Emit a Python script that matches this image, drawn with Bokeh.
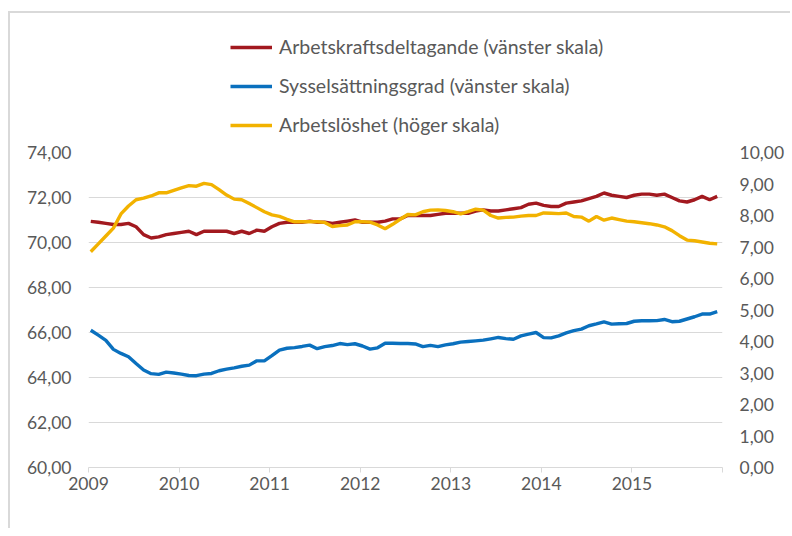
from bokeh.plotting import figure
from bokeh.layouts import column
from bokeh.models import (Range1d, LinearAxis, FixedTicker, CustomJSTickFormatter,
                          Legend, LegendItem, ColumnDataSource)
from bokeh.embed import file_html
from bokeh.resources import INLINE

# Monthly data, Jan 2009 - Dec 2015
start_year = 2009
arbetskraft = [
    70.94, 70.9, 70.85, 70.8, 70.8, 70.85, 70.7, 70.35, 70.2, 70.25, 70.35, 70.4,
    70.45, 70.5, 70.35, 70.5, 70.5, 70.5, 70.5, 70.4, 70.5, 70.4, 70.55, 70.5,
    70.7, 70.85, 70.9, 70.9, 70.9, 70.95, 70.9, 70.9, 70.85, 70.9, 70.95, 71.0,
    70.9, 70.9, 70.9, 70.95, 71.05, 71.05, 71.2, 71.2, 71.2, 71.2, 71.25, 71.3,
    71.3, 71.3, 71.3, 71.4, 71.45, 71.4, 71.4, 71.45, 71.5, 71.55, 71.7, 71.75,
    71.65, 71.6, 71.6, 71.75, 71.8, 71.85, 71.95, 72.05, 72.2, 72.1, 72.05, 72.0,
    72.1, 72.15, 72.15, 72.1, 72.15, 72.0, 71.85, 71.8, 71.9, 72.05, 71.9, 72.05,
]
sysselsattning = [
    66.1, 65.88, 65.65, 65.25, 65.07, 64.92, 64.62, 64.33, 64.17, 64.14, 64.24, 64.2,
    64.15, 64.09, 64.08, 64.15, 64.18, 64.3, 64.37, 64.43, 64.5, 64.55, 64.74, 64.74,
    64.97, 65.22, 65.3, 65.33, 65.38, 65.44, 65.28, 65.37, 65.42, 65.51, 65.46, 65.5,
    65.4, 65.26, 65.32, 65.52, 65.52, 65.51, 65.51, 65.49, 65.37, 65.43, 65.37, 65.45,
    65.5, 65.57, 65.6, 65.63, 65.66, 65.72, 65.78, 65.73, 65.7, 65.85, 65.93, 66.0,
    65.77, 65.76, 65.85, 65.98, 66.08, 66.15, 66.3, 66.38, 66.47, 66.37, 66.39, 66.4,
    66.5, 66.52, 66.52, 66.53, 66.58, 66.48, 66.5, 66.6, 66.7, 66.82, 66.82, 66.93,
]
arbetsloshet = [
    6.85, 7.1, 7.35, 7.6, 8.05, 8.3, 8.5, 8.55, 8.62, 8.72, 8.72, 8.8,
    8.88, 8.95, 8.93, 9.02, 8.98, 8.82, 8.65, 8.52, 8.5, 8.38, 8.25, 8.12,
    8.02, 7.97, 7.88, 7.8, 7.8, 7.8, 7.8, 7.78, 7.65, 7.68, 7.7, 7.8,
    7.8, 7.79, 7.7, 7.58, 7.72, 7.88, 8.03, 8.02, 8.12, 8.17, 8.18, 8.16,
    8.12, 8.05, 8.12, 8.2, 8.17, 8.0, 7.92, 7.94, 7.95, 7.98, 8.0, 8.0,
    8.08, 8.07, 8.06, 8.08, 7.97, 7.95, 7.82, 7.97, 7.85, 7.92, 7.87, 7.82,
    7.8, 7.77, 7.74, 7.7, 7.64, 7.52, 7.36, 7.22, 7.2, 7.16, 7.12, 7.1,
]
year_ticks = [2009, 2010, 2011, 2012, 2013, 2014, 2015, 2016]
left_ticks = [60, 62, 64, 66, 68, 70, 72, 74]
right_ticks = [0, 1, 2, 3, 4, 5, 6, 7, 8, 9, 10]
labels = ["Arbetskraftsdeltagande (vänster skala)",
          "Sysselsättningsgrad (vänster skala)",
          "Arbetslöshet (höger skala)"]
colors = ["#A2191F", "#0A70BE", "#F2B200"]

x = [start_year + (i + 0.3) / 12 for i in range(len(arbetskraft))]
src = ColumnDataSource(dict(x=x, a=arbetskraft, s=sysselsattning, u=arbetsloshet))

FONT = "Lato"
TXT = "#595959"
GRID = "#d9d9d9"
LW = 3.4

# ---- main chart ----
p = figure(width=780, height=386, output_backend="svg", toolbar_location=None,
           x_range=Range1d(2009, 2016), y_range=Range1d(60, 74),
           min_border_left=78, min_border_right=68, min_border_top=10,
           min_border_bottom=61)
p.outline_line_color = None
p.extra_y_ranges = {"right": Range1d(0, 10)}

p.line("x", "a", source=src, line_color=colors[0], line_width=LW)
p.line("x", "s", source=src, line_color=colors[1], line_width=LW)
p.line("x", "u", source=src, line_color=colors[2], line_width=LW, y_range_name="right")

num_fmt = CustomJSTickFormatter(code="return tick.toFixed(2).replace('.', ',');")

ya = p.yaxis[0]
ya.ticker = FixedTicker(ticks=left_ticks)
ya.formatter = num_fmt

ra = LinearAxis(y_range_name="right", ticker=FixedTicker(ticks=right_ticks),
                formatter=num_fmt)
p.add_layout(ra, "right")

for ax in (ya, ra):
    ax.axis_line_color = None
    ax.major_tick_line_color = None
    ax.minor_tick_line_color = None
    ax.major_tick_out = 0
    ax.major_tick_in = 0
    ax.major_label_standoff = 17
    ax.major_label_text_font = FONT
    ax.major_label_text_font_size = "17.5px"
    ax.major_label_text_color = TXT

xa = p.xaxis[0]
xa.ticker = FixedTicker(ticks=year_ticks)
xa.formatter = CustomJSTickFormatter(code="return tick < 2016 ? tick.toFixed(0) : '';")
xa.axis_line_color = GRID
xa.axis_line_width = 1
xa.major_tick_line_color = GRID
xa.major_tick_out = 5
xa.major_tick_in = 0
xa.minor_tick_line_color = None
xa.major_label_standoff = 4
xa.major_label_text_font = FONT
xa.major_label_text_font_size = "17.5px"
xa.major_label_text_color = TXT

p.xgrid.grid_line_color = None
p.ygrid.ticker = FixedTicker(ticks=left_ticks)
p.ygrid.grid_line_color = GRID
p.ygrid.grid_line_width = 1

# ---- legend strip above the chart ----
lg = figure(width=780, height=129, output_backend="svg", toolbar_location=None,
            x_range=Range1d(2009, 2016), y_range=Range1d(0, 1),
            x_axis_location=None, y_axis_location=None,
            min_border_left=0, min_border_right=0, min_border_top=0,
            min_border_bottom=0)
lg.outline_line_color = None
lg.grid.grid_line_color = None
# same series, outside this strip's range, so only their legend swatches show
g1 = lg.line("x", "a", source=src, line_color=colors[0], line_width=LW)
g2 = lg.line("x", "s", source=src, line_color=colors[1], line_width=LW)
g3 = lg.line("x", "u", source=src, line_color=colors[2], line_width=LW)

legend = Legend(items=[LegendItem(label=labels[0], renderers=[g1]),
                       LegendItem(label=labels[1], renderers=[g2]),
                       LegendItem(label=labels[2], renderers=[g3])],
                location=(142, 6), orientation="vertical")
legend.border_line_color = None
legend.background_fill_alpha = 0
legend.padding = 0
legend.margin = 0
legend.spacing = 16
legend.glyph_width = 42
legend.glyph_height = 20
legend.label_height = 20
legend.label_standoff = 7
legend.label_text_font = FONT
legend.label_text_font_size = "19.5px"
legend.label_text_color = TXT
lg.add_layout(legend, "center")

layout = column(lg, p, spacing=0)
layout.styles = {"border-top": "2px solid #d9d9d9", "border-left": "2px solid #d9d9d9",
                 "margin-left": "8px", "margin-top": "11px"}

open("out.html", "w").write(file_html(layout, INLINE))
